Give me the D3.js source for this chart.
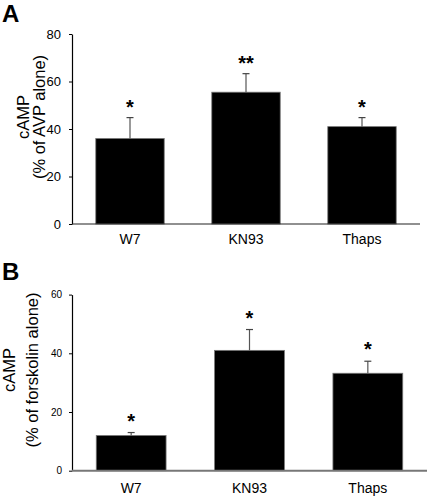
<!DOCTYPE html>
<html><head><meta charset="utf-8">
<script src="https://cdn.jsdelivr.net/npm/d3@7"></script>
<style>body{margin:0;background:#fff}svg{display:block}text{font-family:Arial,"Liberation Sans",sans-serif}</style>
</head><body>
<script>
const categories = ["W7", "KN93", "Thaps"];
const valuesA = [36, 55.5, 41];
const errorsA = [8.8, 7.8, 3.8];
const starsA = ["*", "**", "*"];
const ticksA = [0, 20, 40, 60, 80];
const valuesB = [12, 41, 33.2];
const errorsB = [1, 7.1, 4.1];
const starsB = ["*", "*", "*"];
const ticksB = [0, 20, 40, 60];

const W = 428, H = 496;
const svg = d3.select("body").append("svg").attr("width", W).attr("height", H);

function panel(o) {
  const g = svg.append("g");
  const x = d3.scaleBand().domain(categories).range([o.x0, o.x1]).paddingInner(0.41).paddingOuter(0.205);
  const y = d3.scaleLinear().domain([0, o.max]).range([o.y0, o.y1]);
  const data = categories.map((c, i) => ({c, v: o.values[i], e: o.errors[i], s: o.stars[i]}));

  g.selectAll("rect.bar").data(data).join("rect")
    .attr("x", d => x(d.c)).attr("y", d => y(d.v))
    .attr("width", x.bandwidth()).attr("height", d => y(0) - y(d.v))
    .attr("fill", "#000").attr("stroke", "#777").attr("stroke-width", 0.8);

  const cx = d => x(d.c) + x.bandwidth() / 2;
  g.selectAll("line.err").data(data).join("line")
    .attr("x1", cx).attr("x2", cx).attr("y1", d => y(d.v)).attr("y2", d => y(d.v + d.e))
    .attr("stroke", "#555").attr("stroke-width", 1.2);
  g.selectAll("line.cap").data(data).join("line")
    .attr("x1", d => cx(d) - 3.5).attr("x2", d => cx(d) + 3.5)
    .attr("y1", d => y(d.v + d.e)).attr("y2", d => y(d.v + d.e))
    .attr("stroke", "#444").attr("stroke-width", 1.2);

  g.selectAll("text.star").data(data).join("text")
    .attr("x", cx).attr("y", d => y(d.v + d.e) - o.starOff)
    .attr("text-anchor", "middle").attr("font-size", 20).attr("font-weight", "bold").attr("fill", "#000")
    .text(d => d.s);

  const ya = g.append("g").attr("transform", `translate(${o.x0},0)`)
    .call(d3.axisLeft(y).tickValues(o.ticks).tickSize(3).tickPadding(o.tickPad).tickSizeOuter(0));
  ya.select(".domain").attr("stroke", "#000").attr("stroke-width", 1.2);
  ya.selectAll(".tick line").attr("stroke", "#000");
  ya.selectAll(".tick text").attr("font-size", o.tickFont).attr("fill", "#000").attr("font-family", "Arial, 'Liberation Sans', sans-serif");

  g.append("line").attr("x1", o.x0).attr("x2", o.x1).attr("y1", y(0)).attr("y2", y(0))
    .attr("stroke", o.xColor).attr("stroke-width", o.xWidth);
  g.selectAll("text.cat").data(categories).join("text")
    .attr("x", d => x(d) + x.bandwidth() / 2).attr("y", y(0) + o.catOff)
    .attr("text-anchor", "middle").attr("font-size", 14).attr("fill", "#000").text(d => d);

  const tg = g.append("g").attr("transform", `translate(0,${o.titleY}) rotate(-90)`);
  tg.append("text").attr("x", 0).attr("y", o.t1x).attr("text-anchor", "middle").attr("font-size", 16.5).text("cAMP");
  tg.append("text").attr("x", 0).attr("y", o.t2x).attr("text-anchor", "middle").attr("font-size", 16.5).text(o.title2);

  g.append("text").attr("x", 2).attr("y", o.labelY).attr("font-size", 24).attr("font-weight", "bold").text(o.label);
}

panel({x0: 72, x1: 420, y0: 224, y1: 34, max: 80, values: valuesA, errors: errorsA, stars: starsA,
  ticks: ticksA, tickPad: 8, tickFont: 13, xColor: "#222", xWidth: 1.2, catOff: 20, starOff: 4,
  titleY: 117, t1x: 29, t2x: 45, title2: "(% of AVP alone)", label: "A", labelY: 22});

panel({x0: 72, x1: 427, y0: 470.7, y1: 294.6, max: 60, values: valuesB, errors: errorsB, stars: starsB,
  ticks: ticksB, tickPad: 7, tickFont: 10, xColor: "#777", xWidth: 2, catOff: 22, starOff: 5,
  titleY: 370, t1x: 15, t2x: 38, title2: "(% of forskolin alone)", label: "B", labelY: 280});
</script>
</body></html>
